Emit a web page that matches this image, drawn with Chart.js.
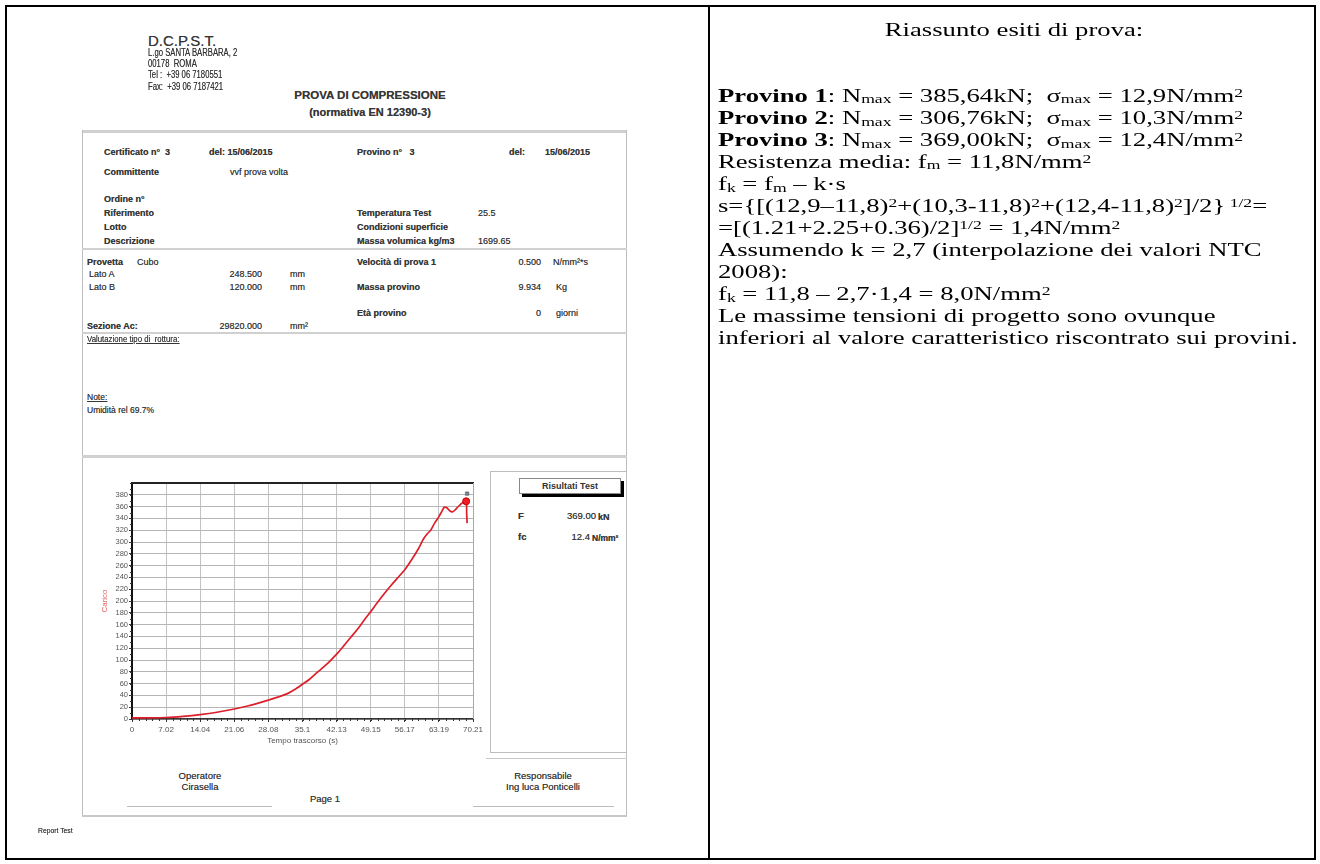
<!DOCTYPE html>
<html>
<head>
<meta charset="utf-8">
<script src="https://cdn.jsdelivr.net/npm/chart.js@4.4.1/dist/chart.umd.min.js"></script>
<style>
html,body{margin:0;padding:0;background:#fff;}
body{width:1320px;height:864px;position:relative;overflow:hidden;}
#frame{position:absolute;left:5px;top:5px;width:1311px;height:855px;border:2px solid #000;box-sizing:border-box;}
#divider{position:absolute;left:708px;top:5px;width:2px;height:855px;background:#000;}
#doc{position:absolute;left:0;top:0;width:708px;height:864px;font-family:"Liberation Sans",Arial,sans-serif;color:#363636;}
.t{position:absolute;white-space:nowrap;text-shadow:0 0 0.5px #777;}
.hl{position:absolute;background:#c9c9c9;}
#right{position:absolute;left:718px;top:19px;width:592px;transform:scaleY(0.74);transform-origin:0 0;font-family:"Liberation Serif","Times New Roman",serif;font-size:26.67px;color:#000;}
#right .ln{height:29.73px;line-height:29.73px;white-space:nowrap;}
#right sub{font-size:0.66em;vertical-align:-0.12em;line-height:0;}
#right sup{font-size:0.66em;vertical-align:0.38em;line-height:0;}
#chartWrap{position:absolute;left:82px;top:462px;width:408px;height:297px;}
#btn{position:absolute;left:519px;top:478px;width:100px;height:14px;border:1px solid #888;background:#fff;box-shadow:3px 3px 0 #000;font:bold 9px "Liberation Sans",Arial,sans-serif;color:#333;text-align:center;line-height:14px;}
</style>
</head>
<body>
<div id="frame"></div>
<div id="divider"></div>
<div id="doc"></div>
<div id="chartWrap"><canvas id="c" width="408" height="297"></canvas></div>
<div id="btn">Risultati Test</div>

<div id="right">
  <div class="ln" style="text-align:center;">Riassunto esiti di prova:</div>
  <div class="ln"></div>
  <div class="ln"></div>
  <div class="ln"><b>Provino 1</b>: N<sub>max</sub> = 385,64kN;&nbsp; σ<sub>max</sub> = 12,9N/mm<sup>2</sup></div>
  <div class="ln"><b>Provino 2</b>: N<sub>max</sub> = 306,76kN;&nbsp; σ<sub>max</sub> = 10,3N/mm<sup>2</sup></div>
  <div class="ln"><b>Provino 3</b>: N<sub>max</sub> = 369,00kN;&nbsp; σ<sub>max</sub> = 12,4N/mm<sup>2</sup></div>
  <div class="ln">Resistenza media: f<sub>m</sub> = 11,8N/mm<sup>2</sup></div>
  <div class="ln">f<sub>k</sub> = f<sub>m</sub> – k·s</div>
  <div class="ln">s={[(12,9–11,8)<sup>2</sup>+(10,3-11,8)<sup>2</sup>+(12,4-11,8)<sup>2</sup>]/2}<sup> 1/2</sup>=</div>
  <div class="ln">=[(1.21+2.25+0.36)/2]<sup>1/2</sup> = 1,4N/mm<sup>2</sup></div>
  <div class="ln">Assumendo k = 2,7 (interpolazione dei valori NTC</div>
  <div class="ln">2008):</div>
  <div class="ln">f<sub>k</sub> = 11,8 – 2,7·1,4 = 8,0N/mm<sup>2</sup></div>
  <div class="ln">Le massime tensioni di progetto sono ovunque</div>
  <div class="ln">inferiori al valore caratteristico riscontrato sui provini.</div>
</div>

<script>
// ---- chart data ----
const timeS  = [0, 3.5, 7.02, 10.5, 14.04, 17.5, 21.06, 24, 26, 28.08, 30, 32, 33.5, 35.1, 36.5, 38, 40, 42.13, 43.5, 45, 46.5, 48, 49.15, 50.5, 52, 53.5, 55, 56.17, 57.5, 59, 60, 60.8, 61.5, 62.3, 63.19, 63.8, 64.3, 64.8, 65.4, 66, 66.6, 67.3, 68, 68.8, 68.9, 69.0];
const loadKN = [2, 2, 2.5, 4.5, 7.5, 11.5, 17, 22.5, 27, 32, 37, 43, 50, 59, 67, 78, 92, 110, 123, 138, 153, 170, 182, 197, 213, 228, 242, 253, 269, 289, 305, 314, 320, 332, 343, 352, 359, 358, 353, 351, 355, 361, 366, 369, 350, 332];
const xTickLabels = ['0', '7.02', '14.04', '21.06', '28.08', '35.1', '42.13', '49.15', '56.17', '63.19', '70.21'];
const yTickLabels = ['0','20','40','60','80','100','120','140','160','180','200','220','240','260','280','300','320','340','360','380'];
const peakTime = [68.8];
const peakLoad = [369.0];
const markTime = [69.0];
const markLoad = [382];
const xMax = 70.21;
const yMax = 400;

// ---- document text ----
const doc = document.getElementById('doc');
function T(x, y, html, size, o) {
  o = o || {};
  const d = document.createElement('div');
  d.className = 't';
  d.innerHTML = html;
  d.style.fontSize = size + 'px';
  d.style.lineHeight = size + 'px';
  d.style.top = (y - size / 2) + 'px';
  if (o.align === 'right') { d.style.right = (708 - x) + 'px'; d.style.transformOrigin = '100% 50%'; }
  else if (o.align === 'center') { d.style.left = (x - 150) + 'px'; d.style.width = '300px'; d.style.textAlign = 'center'; }
  else { d.style.left = x + 'px'; d.style.transformOrigin = '0 50%'; }
  if (o.bold) d.style.fontWeight = 'bold';
  if (o.u) d.style.textDecoration = 'underline';
  if (o.color) d.style.color = o.color;
  if (o.sx) d.style.transform = 'scaleX(' + o.sx + ')';
  doc.appendChild(d);
}
function H(x1, x2, y, h, c) {
  const d = document.createElement('div');
  d.className = 'hl';
  d.style.left = x1 + 'px'; d.style.width = (x2 - x1) + 'px';
  d.style.top = y + 'px'; d.style.height = (h || 1) + 'px';
  if (c) d.style.background = c;
  doc.appendChild(d);
}
function V(x, y1, y2, w, c) {
  const d = document.createElement('div');
  d.className = 'hl';
  d.style.left = x + 'px'; d.style.width = (w || 1) + 'px';
  d.style.top = y1 + 'px'; d.style.height = (y2 - y1) + 'px';
  if (c) d.style.background = c;
  doc.appendChild(d);
}

// header
T(148, 40, 'D.C.P.S.T.', 15);
T(148, 53, 'L.go SANTA BARBARA, 2', 10, {sx:0.77});
T(148, 64, '00178&nbsp; ROMA', 10, {sx:0.77});
T(148, 75, 'Tel :&nbsp; +39 06 7180551', 10, {sx:0.77});
T(148, 87, 'Fax:&nbsp; +39 06 7187421', 10, {sx:0.77});
T(370, 96, 'PROVA DI COMPRESSIONE', 11.5, {bold:true, align:'center'});
T(370, 112, '(normativa EN 12390-3)', 11, {bold:true, align:'center'});

// box frame
H(82, 627, 130, 3, '#d0d0d0');
V(82, 130, 816, 1, '#bdbdbd');
V(626, 130, 816, 1, '#bdbdbd');
H(82, 627, 815, 2, '#c8c8c8');

// section 1
T(104, 152, 'Certificato n°&nbsp; 3', 9, {bold:true});
T(209, 152, 'del: 15/06/2015', 9, {bold:true});
T(357, 152, 'Provino n°&nbsp;&nbsp; 3', 9, {bold:true});
T(509, 152, 'del:', 9, {bold:true});
T(545, 152, '15/06/2015', 9, {bold:true});
T(104, 172, 'Committente', 9, {bold:true});
T(230, 172, 'vvf prova volta', 9);
T(104, 199, 'Ordine n°', 9, {bold:true});
T(104, 213, 'Riferimento', 9, {bold:true});
T(357, 213, 'Temperatura Test', 9, {bold:true});
T(478, 213, '25.5', 9);
T(104, 227, 'Lotto', 9, {bold:true});
T(357, 227, 'Condizioni superficie', 9, {bold:true});
T(104, 241, 'Descrizione', 9, {bold:true});
T(357, 241, 'Massa volumica kg/m3', 9, {bold:true});
T(478, 241, '1699.65', 9);
H(82, 627, 248, 2, '#d0d0d0');

// section 2
T(87, 262, 'Provetta', 9, {bold:true});
T(137, 262, 'Cubo', 9);
T(357, 262, 'Velocità di prova 1', 9, {bold:true});
T(541, 262, '0.500', 9, {align:'right'});
T(553, 262, 'N/mm²*s', 9);
T(89, 274, 'Lato A', 9);
T(262, 274, '248.500', 9, {align:'right'});
T(290, 274, 'mm', 9);
T(89, 287, 'Lato B', 9);
T(262, 287, '120.000', 9, {align:'right'});
T(290, 287, 'mm', 9);
T(357, 287, 'Massa provino', 9, {bold:true});
T(541, 287, '9.934', 9, {align:'right'});
T(556, 287, 'Kg', 9);
T(357, 313, 'Età provino', 9, {bold:true});
T(541, 313, '0', 9, {align:'right'});
T(556, 313, 'giorni', 9);
T(87, 326, 'Sezione Ac:', 9, {bold:true});
T(262, 326, '29820.000', 9, {align:'right'});
T(290, 326, 'mm²', 9);
H(82, 627, 332, 2, '#d0d0d0');

// section 3
T(87, 339, 'Valutazione tipo di&nbsp; rottura:', 8.5, {u:true, sx:0.92});
T(87, 397, 'Note:', 8.5, {u:true});
T(87, 410, 'Umidità rel 69.7%', 8.5);
H(82, 627, 455, 3, '#d0d0d0');

// results box
V(490, 471, 752, 1, '#bdbdbd');
H(490, 627, 471, 1, '#bdbdbd');
H(490, 627, 752, 1, '#bdbdbd');
H(486, 627, 758, 1, '#c8c8c8');
T(518, 516, 'F', 9.5, {bold:true});
T(596, 516, '369.00', 9.5, {align:'right'});
T(598, 517, 'kN', 9, {bold:true});
T(518, 537, 'fc', 9.5, {bold:true});
T(590, 537, '12.4', 9.5, {align:'right'});
T(592, 538, 'N/mm²', 8.5, {bold:true});

// footer
T(200, 776, 'Operatore', 9.5, {align:'center'});
T(200, 787, 'Cirasella', 9.5, {align:'center'});
T(543, 776, 'Responsabile', 9.5, {align:'center'});
T(543, 787, 'Ing luca Ponticelli', 9.5, {align:'center'});
T(325, 799, 'Page 1', 9.5, {align:'center'});
H(127, 272, 806, 1, '#bbb');
H(473, 614, 806, 1, '#bbb');
T(38, 831, 'Report Test', 8, {sx:0.85});

// ---- chart ----
const minorTicks = {
  id: 'minorTicks',
  afterDraw(chart) {
    const ctx = chart.ctx, xs = chart.scales.x, ys = chart.scales.y;
    ctx.save();
    ctx.strokeStyle = '#333';
    ctx.lineWidth = 1;
    const step = xMax / 50;
    for (let i = 0; i <= 50; i++) {
      const px = Math.round(xs.getPixelForValue(i * step)) + 0.5;
      ctx.beginPath();
      ctx.moveTo(px, ys.bottom);
      ctx.lineTo(px, ys.bottom + 2);
      ctx.stroke();
    }
    for (let v = 0; v <= yMax; v += 10) {
      const py = Math.round(ys.getPixelForValue(v)) + 0.5;
      ctx.beginPath();
      ctx.moveTo(xs.left - 2, py);
      ctx.lineTo(xs.left, py);
      ctx.stroke();
    }
    ctx.restore();
  }
};

new Chart(document.getElementById('c'), {
  type: 'scatter',
  data: {
    datasets: [
      { data: timeS.map((t, i) => ({x: t, y: loadKN[i]})), showLine: true, borderColor: '#dc1f2a', borderWidth: 1.7, pointRadius: 0, tension: 0.25, order: 3 },
      { data: peakTime.map((t, i) => ({x: t, y: peakLoad[i]})), pointRadius: 3.5, backgroundColor: '#ee1c25', borderColor: '#c40000', borderWidth: 1, order: 1 },
      { data: markTime.map((t, i) => ({x: t, y: markLoad[i]})), pointStyle: 'rect', pointRadius: 2.5, backgroundColor: '#6f8090', borderColor: '#55606a', borderWidth: 0.5, order: 2 }
    ]
  },
  options: {
    responsive: false,
    animation: false,
    layout: { padding: { top: 21, right: 17, left: 0, bottom: 13 } },
    plugins: { legend: { display: false }, tooltip: { enabled: false } },
    scales: {
      x: {
        type: 'linear', min: 0, max: xMax,
        afterBuildTicks: s => { s.ticks = xTickLabels.map(l => ({ value: parseFloat(l) })); },
        afterFit: s => { s.height = 27; },
        ticks: { autoSkip: false, maxRotation: 0, padding: 3, color: '#555', font: { size: 8, family: 'Liberation Sans' },
                 callback: (v, i) => xTickLabels[i] },
        grid: { color: '#c2c2c2', lineWidth: 1, tickLength: 3, tickColor: '#333' },
        border: { color: '#333', width: 1.5 },
        title: { display: true, text: 'Tempo trascorso (s)', color: '#555', font: { size: 8, family: 'Liberation Sans' }, padding: { top: 1, bottom: 0 } }
      },
      y: {
        type: 'linear', min: 0, max: yMax,
        afterBuildTicks: s => { s.ticks = yTickLabels.map(l => ({ value: parseFloat(l) })); },
        afterFit: s => { s.width = 50; },
        ticks: { autoSkip: false, padding: 1, color: '#555', font: { size: 7.5, family: 'Liberation Sans' }, callback: (v, i) => yTickLabels[i] },
        grid: { color: '#b5b5b5', lineWidth: 1, tickLength: 3, tickColor: '#444' },
        border: { color: '#111', width: 2 },
        title: { display: true, text: 'Carico', color: '#e46464', font: { size: 8, family: 'Liberation Sans' }, padding: { top: 18, bottom: 0 } }
      },
      x2: {
        type: 'linear', position: 'top', min: 0, max: xMax,
        ticks: { display: false }, grid: { display: false },
        border: { color: '#222', width: 2 },
        afterFit: s => { s.height = 0; }
      },
      y2: {
        type: 'linear', position: 'right', min: 0, max: yMax,
        ticks: { display: false }, grid: { display: false },
        border: { color: '#aaa', width: 1 },
        afterFit: s => { s.width = 0; }
      }
    }
  },
  plugins: [minorTicks]
});
</script>
</body>
</html>
